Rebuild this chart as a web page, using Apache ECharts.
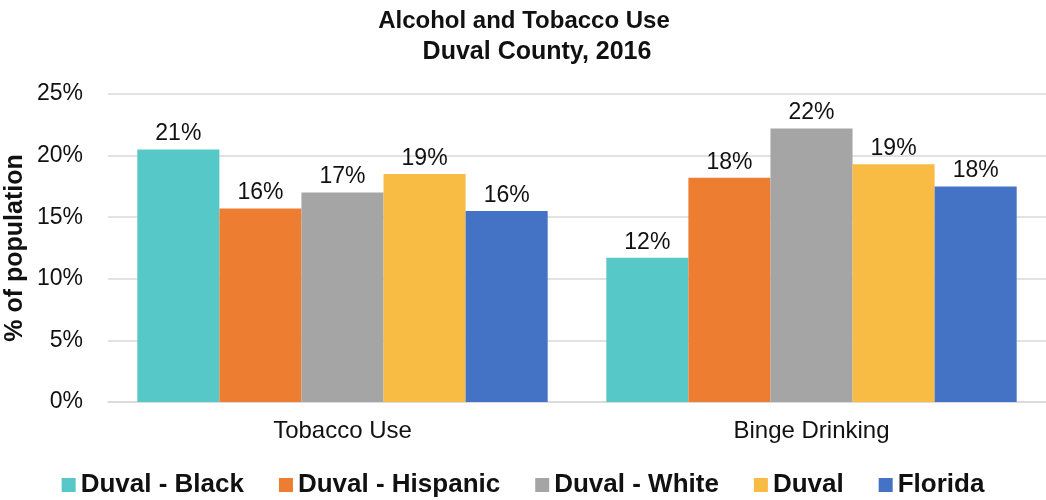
<!DOCTYPE html>
<html>
<head>
<meta charset="utf-8">
<style>
  html, body { margin: 0; padding: 0; background: #fff; }
  #chart { width: 1046px; height: 500px; }
</style>
<script src="https://cdn.jsdelivr.net/npm/echarts@6/dist/echarts.min.js"></script>
</head>
<body>
<div id="chart"></div>
<script>
// Categories on the x axis
const categories = ['Tobacco Use', 'Binge Drinking'];

// Percent of population, one array per group
const duvalBlack    = [20.5, 11.7];
const duvalHispanic = [15.7, 18.2];
const duvalWhite    = [17.0, 22.2];
const duval         = [18.5, 19.3];
const florida       = [15.5, 17.5];

const seriesNames = ['Duval - Black', 'Duval - Hispanic', 'Duval - White', 'Duval', 'Florida'];
const seriesData  = [duvalBlack, duvalHispanic, duvalWhite, duval, florida];
const seriesColors = ['#56C8C8', '#ED7D31', '#A5A5A5', '#F8BB44', '#4472C4'];

const FONT = '"Liberation Sans", Arial, Helvetica, sans-serif';

const chart = echarts.init(document.getElementById('chart'), null, { renderer: 'canvas' });

chart.setOption({
  animation: false,
  backgroundColor: '#ffffff',
  textStyle: { fontFamily: FONT },
  title: [
    {
      text: 'Alcohol and Tobacco Use',
      left: 519, top: 4, textAlign: 'center',
      textStyle: { fontFamily: FONT, fontSize: 24, fontWeight: 'bold', color: '#111' }
    },
    {
      text: 'Duval County, 2016',
      left: 532, top: 35, textAlign: 'center',
      textStyle: { fontFamily: FONT, fontSize: 25, fontWeight: 'bold', color: '#111' }
    }
  ],
  legend: {
    data: seriesNames,
    left: 'center',
    top: 467,
    itemWidth: 14,
    itemHeight: 14,
    itemGap: 35,
    icon: 'rect',
    textStyle: { fontFamily: FONT, fontSize: 26, fontWeight: 'bold', color: '#111' }
  },
  grid: { left: 108, right: 0, top: 94, bottom: 98, containLabel: false, outerBoundsMode: 'none' },
  xAxis: {
    type: 'category',
    data: categories,
    axisLine: { show: true, lineStyle: { color: '#D9D9D9', width: 1.5 } },
    axisTick: { show: false },
    axisLabel: { margin: 17, fontFamily: FONT, fontSize: 24, color: '#111' }
  },
  yAxis: {
    type: 'value',
    min: 0, max: 25, interval: 5,
    name: '% of population',
    nameLocation: 'middle',
    nameGap: 80,
    nameMoveOverlap: false,
    nameTextStyle: { fontFamily: FONT, fontSize: 25, fontWeight: 'bold', color: '#111' },
    axisLine: { show: false },
    axisTick: { show: false },
    splitLine: { lineStyle: { color: '#D9D9D9', width: 1.5 } },
    axisLabel: { formatter: '{value}%', margin: 25, fontFamily: FONT, fontSize: 23, color: '#111' }
  },
  series: seriesNames.map((name, i) => ({
    name: name,
    type: 'bar',
    data: seriesData[i],
    barGap: 0,
    barCategoryGap: '12.5%',
    itemStyle: { color: seriesColors[i] },
    label: {
      show: true,
      position: 'top',
      distance: 4,
      fontFamily: FONT,
      fontSize: 23,
      color: '#111',
      formatter: p => Math.round(p.value) + '%'
    }
  }))
});
</script>
</body>
</html>
